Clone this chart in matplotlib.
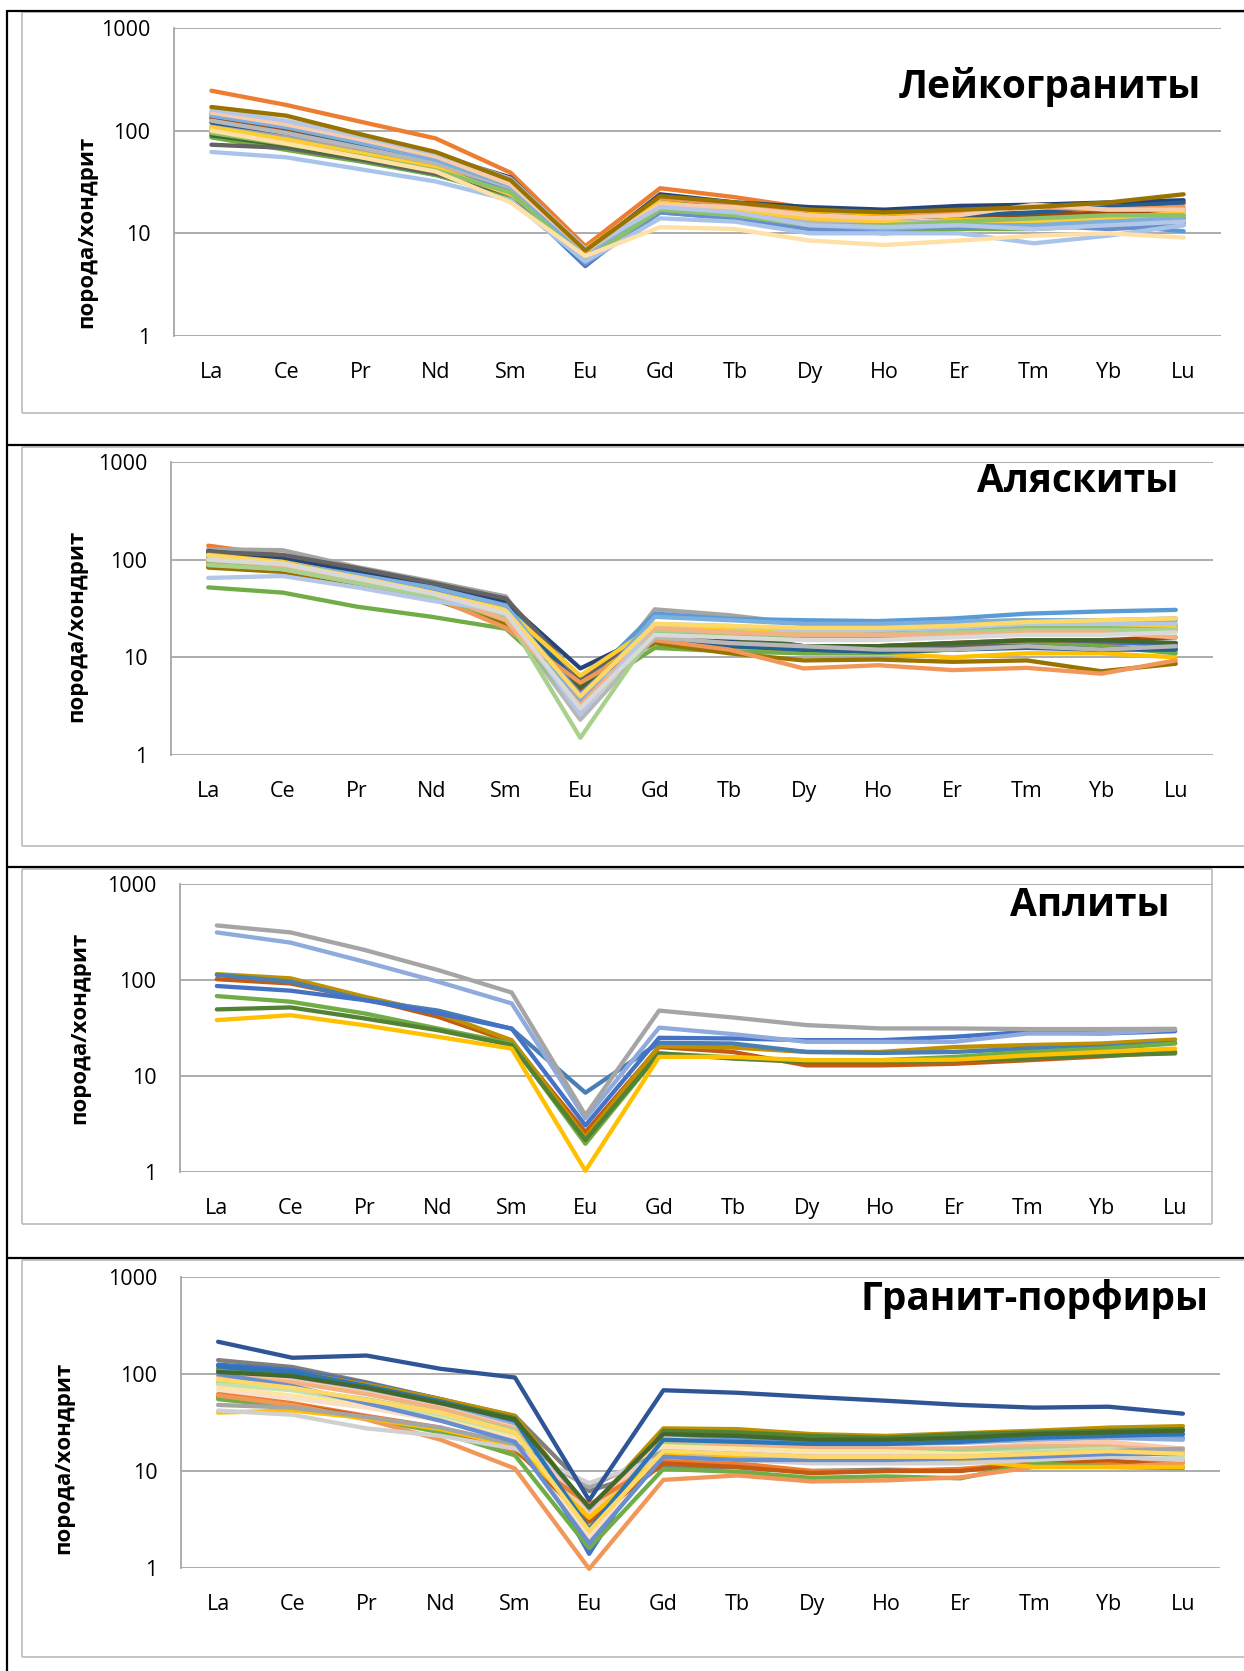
import matplotlib
matplotlib.use("Agg")
import matplotlib.pyplot as plt
from matplotlib.lines import Line2D
from matplotlib.ticker import FixedLocator, NullLocator

plt.rcParams['font.family'] = ['Open Sans', 'DejaVu Sans']

W, H = 1244, 1671
elements = ["La", "Ce", "Pr", "Nd", "Sm", "Eu", "Gd", "Tb", "Dy", "Ho", "Er", "Tm", "Yb", "Lu"]
y_ticks = [1, 10, 100, 1000]
y_tick_labels = ["1", "10", "100", "1000"]
y_title = "порода/хондрит"

# ---------------- Лейкограниты ----------------
leuco_colors = ["#4472C4", "#ED7D31", "#A5A5A5", "#FFC000", "#5B9BD5", "#70AD47",
                "#264478", "#9E480E", "#636363", "#43682B", "#255E91", "#698ED0",
                "#F1975A", "#B7B7B7", "#FFCD33", "#7CAFDD", "#8CC168", "#A9C4EB",
                "#F8CBAD", "#FFE0A6", "#B4C7E7", "#997300"]
leuco_values = [
    [95, 70, 52, 37, 24, 4.8, 18, 15, 12, 11.5, 12, 12.5, 11.5, 12.5],
    [245, 178, 122, 84, 39, 7.5, 27.5, 22.5, 17.5, 16, 17, 19, 19.5, 19.5],
    [110, 88, 64, 47, 28, 6.2, 17, 15, 13, 12.5, 13, 14, 15, 16],
    [105, 80, 60, 44, 25, 7.0, 22, 19, 16, 15, 14, 13, 13, 14],
    [130, 100, 72, 50, 29, 5.5, 19, 17, 13, 12, 12, 12, 12, 10.5],
    [86, 65, 50, 37, 23, 5.2, 16, 14, 11, 10, 11, 11, 12, 13],
    [150, 120, 85, 58, 35, 6.5, 24, 20, 18, 17, 18.5, 19, 20, 21],
    [135, 105, 75, 52, 30, 6.0, 20, 17, 14, 14, 15, 15, 16, 17],
    [73, 68, 52, 38, 24, 5.8, 18, 16, 12.5, 12, 12, 12, 13, 14],
    [90, 72, 54, 40, 25, 5.6, 17, 15, 12, 11, 12, 13, 14, 15],
    [120, 95, 70, 50, 31, 6.3, 21, 18, 15, 14, 15, 16, 18, 20],
    [100, 78, 58, 42, 26, 5.0, 16, 14, 11, 11, 11.5, 12, 11, 12],
    [145, 112, 80, 55, 32, 6.6, 22, 19, 15, 14, 16, 18, 17, 18],
    [125, 95, 68, 48, 28, 6.0, 18, 16, 13, 13, 13, 13, 14, 15],
    [108, 82, 60, 43, 24, 6.8, 20, 17, 14, 13, 12, 13, 14, 16],
    [140, 108, 76, 52, 29, 5.8, 17, 15, 12, 11, 12, 12, 13, 14],
    [95, 74, 56, 41, 25, 5.5, 17, 15, 12, 12, 13, 14, 15, 15],
    [62, 55, 42, 32, 21, 5.3, 14, 13, 10, 10, 10, 8, 9.5, 12],
    [150, 115, 82, 56, 30, 6.8, 19, 18, 15, 14, 15, 19, 17, 17],
    [100, 75, 55, 40, 20, 6.0, 11.5, 11, 8.5, 7.7, 8.5, 9.5, 10, 9.1],
    [160, 125, 88, 60, 34, 7.0, 18, 16, 12, 11.5, 12, 11, 12, 13],
    [170, 140, 92, 62, 33, 6.8, 23, 20, 17, 16, 17, 18, 20, 24],
]

# ---------------- Аляскиты ----------------
alask_colors = ["#4472C4", "#ED7D31", "#A5A5A5", "#FFC000", "#5B9BD5", "#70AD47",
                "#264478", "#9E480E", "#636363", "#997300", "#255E91", "#43682B",
                "#698ED0", "#F1975A", "#B7B7B7", "#FFCD33", "#7CAFDD", "#8CC168",
                "#A9D18E", "#F4B183", "#B4C7E7", "#FFD966", "#D9D9D9"]
alask_values = [
    [118, 100, 72, 52, 33, 4.5, 17, 15, 13, 12, 12.5, 14, 14, 14],
    [139, 110, 78, 54, 27, 6.0, 17, 16, 12, 13, 13.5, 14, 13, 12],
    [128, 125, 84, 60, 42, 3.3, 31, 27, 22, 21, 23, 24, 24, 25],
    [110, 90, 65, 45, 24, 6.3, 14, 12, 11, 11, 10, 11, 11, 10],
    [100, 90, 68, 50, 35, 5.0, 28, 24.8, 24, 23.5, 25, 28, 29.5, 30.6],
    [52, 46, 33, 26, 19.6, 4.0, 12.5, 11.5, 11, 11, 12, 14, 13, 11],
    [122, 105, 75, 53, 37, 7.7, 18, 15, 12, 11.5, 12, 13, 12, 13],
    [85, 78, 58, 42, 22, 4.8, 16, 14, 13, 13, 14, 15, 15, 16],
    [120, 112, 82, 58, 40, 6.0, 20, 17, 13, 13, 13, 13, 12, 13],
    [83, 75, 55, 40, 22, 5.5, 14, 11, 9.3, 9.5, 9, 9.3, 7.2, 8.6],
    [110, 95, 70, 50, 32, 5.2, 15, 13, 12, 11.5, 12, 12.5, 12, 12],
    [95, 85, 60, 44, 25, 5.0, 16.8, 16, 13, 13, 14, 15, 15, 14],
    [105, 88, 66, 48, 30, 4.2, 20, 19, 18, 18, 19, 20, 20, 21],
    [95, 80, 58, 42, 20, 5.5, 15, 12, 7.7, 8.3, 7.4, 7.8, 6.8, 9.3],
    [90, 80, 58, 42, 25, 2.3, 16, 14, 13, 12, 12, 13, 12, 13],
    [112, 95, 68, 46, 31, 6.5, 21, 20, 18, 17, 18, 19, 20, 20],
    [105, 92, 70, 52, 34, 3.5, 26, 24, 22, 22, 23, 24, 24, 24],
    [90, 82, 60, 43, 24, 2.8, 18, 17, 16, 16, 18, 20, 20, 19],
    [88, 80, 58, 42, 27, 1.5, 19, 18, 17, 17, 18, 19, 19, 19],
    [100, 88, 64, 46, 24, 3.2, 20, 18, 17, 17, 17, 18, 18, 16],
    [65, 68, 52, 38, 30, 2.6, 22, 21, 19, 19, 20, 22, 22, 22],
    [110, 92, 66, 46, 30, 4.0, 22, 21, 20, 20, 21, 23, 24, 25],
    [100, 90, 64, 45, 28, 3.0, 17, 16, 15, 15, 16, 17, 17, 18],
]

# ---------------- Аплиты ----------------
aplite_colors = ["#C55A11", "#BF9000", "#4A7FB5", "#4472C4", "#70AD47",
                 "#548235", "#FFC000", "#8FAADC", "#A5A5A5"]
aplite_values = [
    [102, 92, 64, 41.4, 22.6, 2.6, 20, 17.8, 12.9, 12.9, 13.4, 14.6, 16, 17.8],
    [115, 104, 67, 45, 23.6, 2.3, 20.5, 19.8, 17.8, 17.8, 20, 21, 21.8, 24],
    [113, 96, 62, 48, 31, 6.7, 22.2, 21.8, 17.8, 17.4, 17.8, 19.3, 20.1, 22.2],
    [86.6, 77.4, 61.8, 44.9, 31.2, 3.05, 25, 24.6, 23.6, 23.6, 25.6, 28.8, 27.7, 29.3],
    [68, 59.4, 44.9, 31.2, 21.8, 1.97, 17.2, 15.6, 14.6, 14.6, 15.8, 17.8, 19.3, 21.8],
    [49.4, 51.8, 39.8, 30, 21, 2.15, 17.2, 15.2, 14.0, 14, 14.6, 15.2, 16.4, 17.2],
    [38.2, 43, 33.8, 25.6, 19.3, 1.03, 15.8, 15.8, 14.6, 14.6, 14.8, 16.4, 17.8, 19.3],
    [313, 245, 155, 96, 57, 3.6, 31.9, 27.3, 22.7, 22.7, 22.7, 27.7, 27.7, 30.5],
    [370, 313, 206, 127, 74, 3.9, 48, 40.7, 33.9, 31.3, 31.3, 30.8, 30.8, 31],
]

# ---------------- Гранит-порфиры ----------------
porph_colors = ["#7F7F7F", "#4472C4", "#BF9000", "#548235", "#5B9BD5", "#8FAADC",
                "#F8CBAD", "#F4B183", "#A9D18E", "#C5E0B4", "#FFE699", "#FBE0C8",
                "#ED7D31", "#C55A11", "#70AD47", "#F1975A", "#FFC000", "#A5A5A5",
                "#D0D0D0", "#698ED0", "#2E75B6", "#FFD966", "#43682B", "#2F5597"]
porph_values = [
    [139, 118, 82, 55, 37, 6.2, 11.1, 10.9, 10, 10.3, 10.1, 12.5, 12, 13],
    [125, 110, 80, 55, 33, 1.4, 22, 20, 19, 19, 20, 22, 24, 24],
    [112, 104, 78, 55, 37, 4.0, 27.5, 27, 24, 23, 24.5, 26, 28, 29],
    [110, 98, 74, 52, 35, 2.0, 26, 25, 23, 22, 24, 25, 26, 27],
    [108, 90, 68, 48, 31, 3.0, 24, 21, 21, 20, 21, 23, 23, 22],
    [105, 88, 66, 46, 30, 3.8, 22, 20, 19, 19, 19.5, 21, 22, 21],
    [100, 85, 64, 45, 28, 3.5, 22, 19, 18, 17, 17, 19, 20, 17],
    [95, 82, 62, 44, 27, 2.8, 20, 18, 17, 17, 17, 18, 18, 16],
    [82, 70, 55, 40, 26, 2.6, 19, 17, 16, 16, 16, 17, 17, 15],
    [78, 68, 50, 37, 24, 3.2, 18, 15, 15, 15, 15, 16, 17, 14],
    [72, 60, 47, 34, 22, 2.2, 18, 17, 16, 16, 15, 15, 16, 11],
    [68, 56, 45, 33, 21, 2.0, 17, 16, 15, 15, 14, 14, 15, 12],
    [62, 50, 37, 28, 16, 4.5, 13, 12, 10, 10, 10.5, 12, 12, 12.5],
    [58, 48, 36, 26, 17, 3.0, 12, 11, 9.5, 10, 10, 12, 13, 11],
    [55, 46, 35, 25, 14.5, 1.6, 10.5, 9.8, 8.5, 8.8, 8.4, 12, 11, 10.7],
    [60, 48, 34, 21, 10.6, 0.98, 8.1, 9.0, 7.8, 8.0, 8.6, 11, 11, 12],
    [40, 42, 35, 27, 18, 3.3, 15, 14, 13, 13, 13, 11, 11, 11],
    [48, 45, 36, 28, 19, 6.8, 16, 15, 14, 14, 14, 15, 16, 17],
    [42, 38, 27.5, 23, 17, 7.5, 14, 13, 12, 12, 12, 13, 14, 13],
    [100, 75, 50, 33, 20, 1.8, 14, 13, 13, 13, 13.5, 14, 15, 15],
    [120, 105, 75, 52, 33, 2.5, 21, 20, 19, 19, 20, 22, 23, 24],
    [88, 72, 54, 40, 25, 2.4, 16, 15, 14, 14, 14, 15, 16, 15],
    [105, 95, 72, 50, 34, 4.2, 24, 23, 21, 21, 22, 24, 25, 26],
    [215, 147, 155, 113, 92, 5.0, 68, 64, 58, 53, 48, 45, 46, 39],
]

# Panel layout in pixels: plot box (left, right, top, bottom), chart frame
# (left, top, bottom, right or None), title anchor (right x, centre y),
# y-label centre (x, y)
panels = [
    dict(title="Лейкограниты", colors=leuco_colors, values=leuco_values,
         plot=(174, 1221, 28, 336), frame=(22, 12, 413, None),
         title_pos=(1201, 87), ylab_pos=(87, 232)),
    dict(title="Аляскиты", colors=alask_colors, values=alask_values,
         plot=(171, 1213, 462, 755), frame=(22, 447, 846, None),
         title_pos=(1178, 482), ylab_pos=(77, 626)),
    dict(title="Аплиты", colors=aplite_colors, values=aplite_values,
         plot=(180, 1212, 884, 1172), frame=(22, 869, 1224, 1212),
         title_pos=(1169, 905), ylab_pos=(80, 1028)),
    dict(title="Гранит-порфиры", colors=porph_colors, values=porph_values,
         plot=(181, 1220, 1277, 1568), frame=(22, 1260, 1657, None),
         title_pos=(1208, 1299), ylab_pos=(64, 1458)),
]

fig = plt.figure(figsize=(W / 100, H / 100), dpi=100)
fig.patch.set_facecolor("white")


def fx(x):
    return x / W


def fy(y):
    return 1 - y / H


def fig_line(xs, ys, color, lw):
    fig.add_artist(Line2D([fx(v) for v in xs], [fy(v) for v in ys],
                          transform=fig.transFigure, color=color, lw=lw,
                          solid_capstyle="butt"))


FRAME = "#BFBFBF"
GRID = "#A6A6A6"

for p in panels:
    # chart frame
    l, t, b, r = p["frame"]
    right = r if r is not None else W + 5
    fig_line([l, l], [t, b], FRAME, 1.3)
    fig_line([l, right], [b, b], FRAME, 1.3)
    fig_line([l, right], [t, t], FRAME, 1.3)
    if r is not None:
        fig_line([r, r], [t, b], FRAME, 1.3)

    pl, pr, pt, pb = p["plot"]
    ax = fig.add_axes([fx(pl), fy(pb), (pr - pl) / W, (pb - pt) / H])
    ax.set_facecolor("none")
    ax.set_yscale("log")
    ax.set_ylim(1, 1000)
    ax.set_xlim(-0.5, len(elements) - 0.5)
    ax.yaxis.set_major_locator(FixedLocator(y_ticks))
    ax.yaxis.set_minor_locator(NullLocator())
    ax.set_yticklabels(y_tick_labels)
    ax.set_xticks(range(len(elements)))
    ax.set_xticklabels(elements)
    ax.tick_params(axis="both", length=0, labelsize=15.5, colors="black")
    ax.tick_params(axis="y", pad=17)
    ax.tick_params(axis="x", pad=19)
    for s in ("top", "right", "bottom"):
        ax.spines[s].set_visible(False)
    ax.spines["left"].set_color(GRID)
    ax.spines["left"].set_linewidth(1.3)
    ax.grid(axis="y", color=GRID, lw=1.3)
    ax.set_axisbelow(True)

    for col, vals in zip(p["colors"], p["values"]):
        ax.plot(range(len(elements)), vals, color=col, lw=3.1,
                solid_joinstyle="round", solid_capstyle="round", clip_on=False)

    tx, ty = p["title_pos"]
    fig.text(fx(tx), fy(ty), p["title"], ha="right", va="center",
             fontsize=28, fontweight="bold")
    lx, ly = p["ylab_pos"]
    fig.text(fx(lx), fy(ly), y_title, ha="center", va="center",
             rotation=90, fontsize=16, fontweight="bold")

# outer table rules
fig_line([7, 7], [10, H], "black", 1.6)
for yy in (11, 445, 867, 1258):
    fig_line([7, W], [yy, yy], "black", 1.6)

fig.savefig("out.png", dpi=100, facecolor="white")
